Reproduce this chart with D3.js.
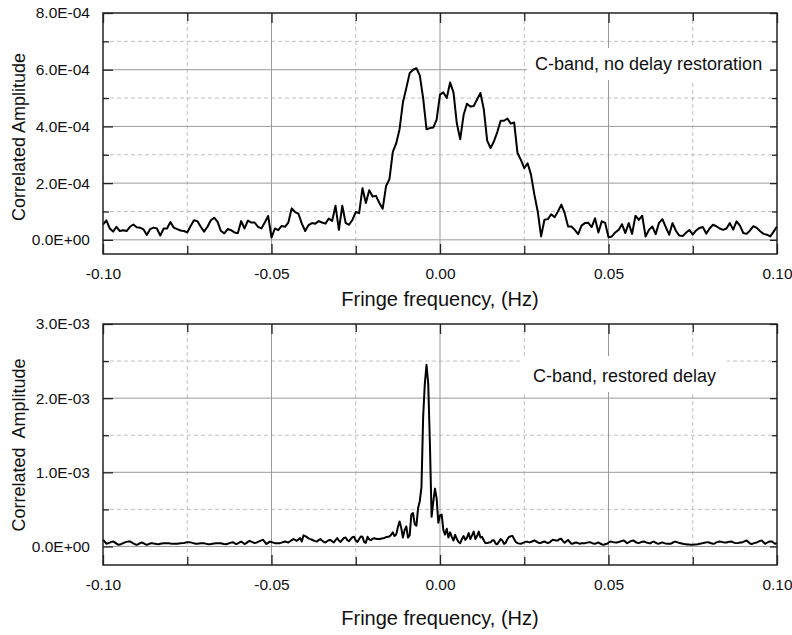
<!DOCTYPE html>
<html>
<head>
<meta charset="utf-8">
<script src="https://cdn.jsdelivr.net/npm/d3@7"></script>
<style>
  body { margin: 0; background: #fff; }
  text { font-family: "Liberation Sans", Arial, sans-serif; fill: #111; }
</style>
</head>
<body>
<div class="chart"></div>
<script>
var svgWidth = 792;
var svgHeight = 635;

// frequency sampling of the two spectra (Hz)
var topStart = -0.1, topStep = 0.001;
var botStart = -0.1, botStep = 0.0005;

// C-band, no delay restoration -- amplitude in units of 1e-4
var topAmp = [
  0.54,0.69,0.40,0.29,0.46,0.31,0.34,0.31,0.46,0.54,
  0.44,0.43,0.37,0.17,0.38,0.43,0.40,0.15,0.40,0.40,
  0.63,0.43,0.38,0.33,0.31,0.26,0.49,0.69,0.66,0.46,
  0.29,0.46,0.69,0.78,0.63,0.31,0.23,0.38,0.34,0.26,
  0.23,0.66,0.40,0.68,0.61,0.61,0.46,0.40,0.61,0.84,
  0.08,0.40,0.34,0.49,0.46,0.61,1.11,0.98,0.92,0.57,
  0.31,0.52,0.59,0.57,0.66,0.61,0.57,0.75,0.67,1.20,
  0.35,1.20,0.60,0.53,0.70,0.98,0.94,1.82,1.30,1.75,
  1.53,1.55,1.30,1.10,1.90,2.14,3.10,3.40,3.90,4.85,
  5.35,5.88,6.00,6.05,5.80,5.00,3.90,3.94,3.96,4.24,
  5.12,5.20,5.00,5.55,5.20,4.10,3.55,4.40,4.80,4.70,
  4.72,4.95,5.18,4.60,3.50,3.24,3.47,3.80,4.20,4.20,
  4.28,4.10,4.14,3.06,2.82,2.53,2.70,2.30,1.60,1.00,
  0.12,0.71,0.73,0.90,0.80,1.00,1.24,0.94,0.47,0.47,
  0.35,0.20,0.50,0.59,0.60,0.45,0.76,0.26,0.65,0.60,
  0.09,0.12,0.26,0.35,0.55,0.24,0.59,0.21,0.85,0.70,
  0.85,0.12,0.35,0.47,0.20,0.60,0.73,0.45,0.18,0.59,
  0.32,0.15,0.13,0.25,0.35,0.18,0.33,0.42,0.45,0.22,
  0.40,0.53,0.48,0.40,0.35,0.40,0.59,0.36,0.65,0.50,
  0.24,0.21,0.33,0.48,0.42,0.30,0.21,0.18,0.12,0.29,0.47
];

// C-band, restored delay -- amplitude in units of 1e-4
var botAmp = [
  0.90,0.65,0.38,0.42,0.52,0.62,0.67,0.55,0.38,0.24,
  0.25,0.35,0.45,0.55,0.62,0.66,0.67,0.55,0.42,0.30,
  0.22,0.32,0.45,0.54,0.45,0.32,0.22,0.32,0.40,0.45,
  0.40,0.36,0.32,0.31,0.36,0.40,0.43,0.45,0.45,0.43,
  0.40,0.38,0.36,0.36,0.36,0.40,0.43,0.45,0.47,0.52,
  0.56,0.58,0.55,0.48,0.42,0.37,0.36,0.40,0.43,0.45,
  0.43,0.38,0.34,0.31,0.33,0.37,0.40,0.43,0.45,0.45,
  0.42,0.38,0.34,0.31,0.36,0.45,0.52,0.58,0.45,0.33,
  0.40,0.55,0.66,0.50,0.33,0.45,0.62,0.76,0.65,0.55,
  0.45,0.52,0.62,0.72,0.82,0.90,0.60,0.33,0.48,0.65,
  0.60,0.52,0.45,0.45,0.45,0.45,0.52,0.60,0.67,0.60,
  0.54,0.70,0.85,0.99,0.88,0.76,0.95,1.12,0.67,1.50,
  1.40,1.25,1.10,1.00,0.90,0.80,0.72,0.67,0.85,0.99,
  0.80,0.62,0.54,0.70,0.85,0.88,0.70,0.54,0.85,1.12,
  0.80,0.62,0.90,1.15,1.20,0.85,0.70,1.00,1.25,1.30,
  0.80,0.60,1.00,1.35,1.30,0.60,0.50,1.30,0.95,0.85,
  1.05,1.10,1.05,1.00,1.00,1.05,1.10,1.15,1.25,1.32,
  1.35,1.57,1.90,1.40,1.60,2.60,3.36,2.50,1.20,2.20,
  2.70,1.20,1.50,4.30,4.50,3.00,2.80,5.20,6.10,8.00,
  17.5,22.0,24.5,22.0,14.0,4.00,6.00,7.80,6.50,3.20,
  4.20,4.30,2.20,1.60,2.40,1.20,1.90,1.30,0.80,1.57,
  1.00,0.60,0.45,1.00,1.40,0.90,1.20,1.80,1.00,1.50,
  2.00,1.00,1.40,2.00,1.20,1.30,0.80,0.45,0.48,0.52,
  0.55,0.80,0.85,0.40,0.30,0.65,1.00,0.80,0.35,0.50,
  1.00,1.30,1.38,1.43,1.00,0.60,0.45,0.40,0.36,0.45,
  0.55,0.65,0.62,0.55,0.60,0.72,0.80,0.70,0.55,0.45,
  0.50,0.60,0.67,0.55,0.45,0.55,0.75,0.90,0.85,0.80,
  0.82,1.00,1.05,0.70,0.50,0.70,0.88,0.60,0.36,0.40,
  0.50,0.54,0.45,0.37,0.42,0.45,0.45,0.50,0.55,0.58,
  0.48,0.40,0.36,0.45,0.54,0.40,0.30,0.22,0.30,0.36,
  0.50,0.67,0.62,0.58,0.55,0.54,0.60,0.67,0.75,0.81,
  0.65,0.45,0.55,0.68,0.78,0.81,0.60,0.50,0.45,0.55,
  0.64,0.67,0.58,0.50,0.45,0.45,0.60,0.65,0.50,0.40,
  0.38,0.48,0.55,0.45,0.40,0.38,0.36,0.38,0.50,0.62,
  0.62,0.55,0.48,0.43,0.36,0.33,0.31,0.28,0.25,0.23,
  0.22,0.25,0.28,0.31,0.36,0.40,0.45,0.50,0.55,0.58,
  0.50,0.42,0.37,0.40,0.55,0.62,0.67,0.62,0.57,0.55,
  0.54,0.60,0.65,0.67,0.55,0.48,0.45,0.48,0.52,0.54,
  0.62,0.72,0.80,0.60,0.40,0.33,0.42,0.48,0.54,0.65,
  0.75,0.81,0.55,0.36,0.50,0.63,0.66,0.67,0.50,0.36,
  0.45
];

// ticks
var xMajor = [-0.10, -0.05, 0.00, 0.05, 0.10];
var xMinor = [-0.075, -0.025, 0.025, 0.075];
var topYMajor = [0, 2e-4, 4e-4, 6e-4, 8e-4];
var topYMinor = [1e-4, 3e-4, 5e-4, 7e-4];
var botYMajor = [0, 1e-3, 2e-3, 3e-3];
var botYMinor = [0.5e-3, 1.5e-3, 2.5e-3];

var panels = [
  { top: 13, amp: topAmp, start: topStart, step: topStep, yDomain: [-0.5e-4, 8e-4],
    yMajor: topYMajor, yMinor: topYMinor,
    note: "C-band, no delay restoration", noteBox: [424, 35, 244, 32], noteX: 432, noteY: 56.5,
    yTitle: "Correlated Amplitude", yTitleY: 124, xTitleY: 292.5 },
  { top: 324, amp: botAmp, start: botStart, step: botStep, yDomain: [-0.25e-3, 3e-3],
    yMajor: botYMajor, yMinor: botYMinor,
    note: "C-band, restored delay", noteBox: [420, 32, 204, 36], noteX: 430, noteY: 57.5,
    yTitle: "Correlated  Amplitude", yTitleY: 121, xTitleY: 301 }
];

var margin = { left: 103 };
var width = 674;
var height = 241;

var svg = d3.select(".chart")
  .append("svg")
  .attr("width", svgWidth)
  .attr("height", svgHeight);

function sci(d) {
  if (d === 0) return "0.0E+00";
  var e = Math.floor(Math.log10(Math.abs(d)) + 1e-9);
  var m = d / Math.pow(10, e);
  return m.toFixed(1) + "E" + (e < 0 ? "-" : "+") + String(Math.abs(e)).padStart(2, "0");
}

panels.forEach(function(p) {
  var chart = svg.append("g")
    .attr("transform", "translate(" + margin.left + "," + p.top + ")");

  var x = d3.scaleLinear().domain([-0.1, 0.1]).range([0, width]);
  var y = d3.scaleLinear().domain(p.yDomain).range([height, 0]);

  // minor grid (dashed)
  chart.append("g").selectAll("line").data(xMinor).enter().append("line")
    .attr("x1", function(d) { return x(d); }).attr("x2", function(d) { return x(d); })
    .attr("y1", 0).attr("y2", height)
    .attr("stroke", "#c0c0c0").attr("stroke-dasharray", "4,3");
  chart.append("g").selectAll("line").data(p.yMinor).enter().append("line")
    .attr("y1", function(d) { return y(d); }).attr("y2", function(d) { return y(d); })
    .attr("x1", 0).attr("x2", width)
    .attr("stroke", "#c0c0c0").attr("stroke-dasharray", "4,3");

  // major grid (solid)
  chart.append("g").selectAll("line").data(xMajor.slice(1, -1)).enter().append("line")
    .attr("x1", function(d) { return x(d); }).attr("x2", function(d) { return x(d); })
    .attr("y1", 0).attr("y2", height)
    .attr("stroke", "#9a9a9a");
  chart.append("g").selectAll("line").data(p.yMajor.slice(0, -1)).enter().append("line")
    .attr("y1", function(d) { return y(d); }).attr("y2", function(d) { return y(d); })
    .attr("x1", 0).attr("x2", width)
    .attr("stroke", "#9a9a9a");

  // annotation box
  chart.append("rect")
    .attr("x", p.noteBox[0]).attr("y", p.noteBox[1])
    .attr("width", p.noteBox[2]).attr("height", p.noteBox[3])
    .attr("fill", "#fff");
  chart.append("text")
    .attr("x", p.noteX).attr("y", p.noteY)
    .style("font-size", "18px")
    .text(p.note);

  // spectrum
  var line = d3.line()
    .x(function(d, i) { return x(p.start + i * p.step); })
    .y(function(d) { return y(d * 1e-4); });
  chart.append("path")
    .datum(p.amp)
    .attr("d", line)
    .attr("fill", "none")
    .attr("stroke", "#000")
    .attr("stroke-width", 2)
    .attr("stroke-linejoin", "round");

  // frame
  chart.append("rect")
    .attr("width", width).attr("height", height)
    .attr("fill", "none").attr("stroke", "#222").attr("stroke-width", 1.5);

  // axes with inward ticks
  var bottomAxis = d3.axisBottom(x).tickValues(xMajor).tickSize(-10).tickPadding(14)
    .tickFormat(function(d) { return d.toFixed(2); });
  var leftAxis = d3.axisLeft(y).tickValues(p.yMajor).tickSize(-10).tickPadding(13)
    .tickFormat(sci);

  chart.append("g").attr("transform", "translate(0," + height + ")").call(bottomAxis);
  chart.append("g").call(leftAxis);
  chart.append("g").attr("transform", "translate(0," + height + ")")
    .call(d3.axisBottom(x).tickValues(xMinor).tickSize(-8).tickFormat(""));
  chart.append("g").call(d3.axisTop(x).tickValues(xMajor).tickSize(-10).tickFormat(""));
  chart.append("g").call(d3.axisTop(x).tickValues(xMinor).tickSize(-8).tickFormat(""));
  chart.append("g").call(d3.axisLeft(y).tickValues(p.yMinor).tickSize(-6).tickFormat(""));
  chart.append("g").attr("transform", "translate(" + width + ",0)")
    .call(d3.axisRight(y).tickValues(p.yMajor).tickSize(-7).tickFormat(""));
  chart.append("g").attr("transform", "translate(" + width + ",0)")
    .call(d3.axisRight(y).tickValues(p.yMinor).tickSize(-5).tickFormat(""));

  chart.selectAll(".domain").remove();
  chart.selectAll(".tick line").attr("stroke", "#222").attr("stroke-width", 1.3);
  chart.selectAll(".tick text")
    .style("font-family", "'Liberation Sans', Arial, sans-serif")
    .style("font-size", "15.5px")
    .attr("fill", "#111");

  // axis titles
  chart.append("text")
    .attr("transform", "rotate(-90)")
    .attr("x", -p.yTitleY)
    .attr("y", -78)
    .attr("text-anchor", "middle")
    .style("font-size", "18px")
    .style("white-space", "pre")
    .text(p.yTitle);

  chart.append("text")
    .attr("x", width / 2)
    .attr("y", p.xTitleY)
    .attr("text-anchor", "middle")
    .style("font-size", "20px")
    .text("Fringe frequency, (Hz)");
});
</script>
</body>
</html>
